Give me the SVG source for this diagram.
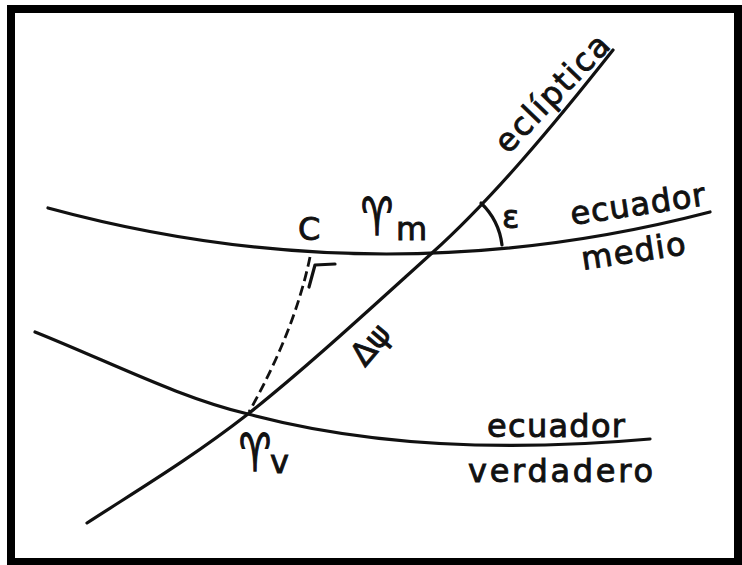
<svg xmlns="http://www.w3.org/2000/svg" width="742" height="565" viewBox="0 0 742 565">
<style>
.ln{fill:none;stroke:#111;stroke-width:3.2;stroke-linecap:round;stroke-linejoin:round}
.dash{fill:none;stroke:#111;stroke-width:2.8;stroke-dasharray:10 5}
.t{font-family:"DejaVu Sans","Liberation Sans",sans-serif;fill:#111;stroke:#111;stroke-width:0.9;font-size:32px}
.sym{font-family:"DejaVu Sans","Noto Sans",sans-serif;fill:#111;stroke:#111;stroke-width:1.2;font-size:42px}
</style>
<rect x="0" y="0" width="742" height="565" fill="#fff"/>
<rect id="frame" x="11" y="9" width="727" height="553" fill="none" stroke="#000" stroke-width="8"/>
<g id="lines">
<path id="ecuador-medio" class="ln" d="M48,208 Q379,298 710,212"/>
<path id="ecuador-verdadero" class="ln" d="M35,332 C110,362 180,398 248,414 C330,436 460,456 650,439"/>
<path id="ecliptica" class="ln" d="M87,523 C141,488 190,459 248,414 C305,369 370,309 432,253 C492,199 553,126 613,50"/>
<path id="perpendicular" class="dash" d="M310,257 Q295,330 249,412"/>
<path id="right-angle" class="ln" d="M335,264 L315,265 L309,287"/>
<path id="epsilon-arc" class="ln" d="M481,203 A70,70 0 0 1 502,245"/>
</g>
<g id="labels">
<text class="t" x="508" y="155" textLength="150" lengthAdjust="spacing" transform="rotate(-46.2 508 155)">eclíptica</text>
<text class="t" x="572" y="225" textLength="136" lengthAdjust="spacing" transform="rotate(-8.4 572 225)">ecuador</text>
<text class="t" x="583" y="270" textLength="105" lengthAdjust="spacing" transform="rotate(-8.7 583 270)">medio</text>
<text class="t" x="487" y="437" textLength="138" lengthAdjust="spacing">ecuador</text>
<text class="t" x="468" y="482" textLength="185" lengthAdjust="spacing">verdadero</text>
<text class="t" x="298" y="240" font-size="34">C</text>
<g id="aries-m">
<text class="sym" transform="translate(361 235) scale(0.85 1.25)">♈&#xFE0E;</text>
<text class="t" x="396" y="240">m</text>
</g>
<text class="t" x="502" y="228" font-size="35">ε</text>
<text class="t" x="365" y="368" font-size="28" transform="rotate(-50 365 368)">Δψ</text>
<g id="aries-v">
<text class="sym" transform="translate(239 471) scale(0.85 1.25)">♈&#xFE0E;</text>
<text class="t" x="270" y="473" font-size="27">v</text>
</g>
</g>
</svg>
